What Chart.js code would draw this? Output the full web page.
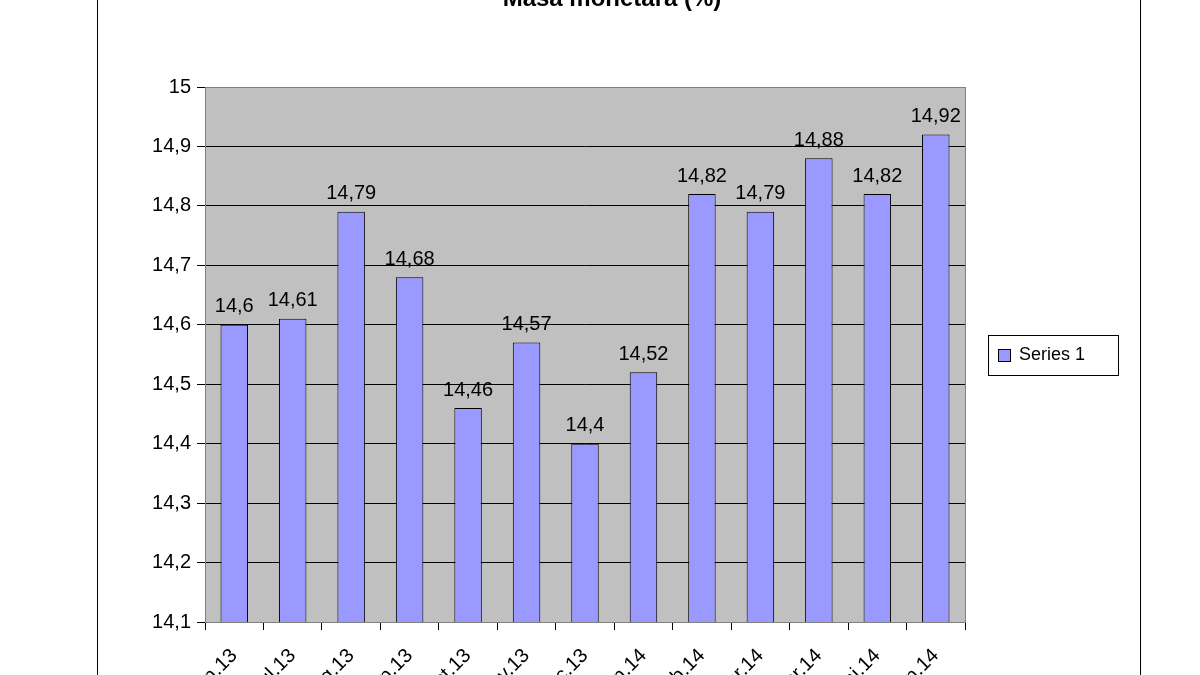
<!DOCTYPE html>
<html><head><meta charset="utf-8">
<script src="https://cdn.jsdelivr.net/npm/chart.js@4"></script>
<style>html,body{margin:0;padding:0;background:#fff}#w{width:1200px;height:675px}</style>
</head><body><div id="w"><canvas id="c"></canvas></div>
<script>
const categories=["iun.13","iul.13","aug.13","sep.13","oct.13","nov.13","dec.13","ian.14","feb.14","mar.14","apr.14","mai.14","iun.14"];
const values=[14.6,14.61,14.79,14.68,14.46,14.57,14.4,14.52,14.82,14.79,14.88,14.82,14.92];
const valueLabels=["14,6","14,61","14,79","14,68","14,46","14,57","14,4","14,52","14,82","14,79","14,88","14,82","14,92"];
const seriesName="Series 1";
const titleText="Masa monetara (%)";
const F="Arial, 'Liberation Sans', sans-serif";
const deco={id:'deco',
 beforeDraw(ch){const c=ch.ctx,a=ch.chartArea;c.save();c.fillStyle='#fff';c.fillRect(0,0,1200,675);
  c.fillStyle='#C0C0C0';c.fillRect(a.left,a.top,a.right-a.left,a.bottom-a.top);
  c.strokeStyle='#000';c.lineWidth=1;c.strokeRect(97.5,-5,1043,690);c.restore();},
 afterDraw(ch){const c=ch.ctx,a=ch.chartArea;c.save();
  c.strokeStyle='#808080';c.strokeRect(a.left+0.5,a.top+0.5,a.right-a.left,a.bottom-a.top);
  c.fillStyle='#000';c.font='bold 24px '+F;c.textAlign='center';c.textBaseline='alphabetic';c.fillText(titleText,612,6);
  c.font='20px '+F;c.textBaseline='bottom';
  ch.getDatasetMeta(0).data.forEach((b,i)=>c.fillText(valueLabels[i],b.x,b.y-8));
  c.strokeStyle='#000';c.strokeRect(988.5,335.5,130,40);
  c.fillStyle='#9999FF';c.fillRect(998,349,12,12);c.strokeRect(998.5,349.5,12,12);
  c.fillStyle='#000';c.textAlign='left';c.textBaseline='middle';c.font='18px '+F;c.fillText(seriesName,1019,355);
  c.restore();}};
new Chart(document.getElementById('c'),{type:'bar',
 data:{labels:categories,datasets:[{label:seriesName,data:values,backgroundColor:'#9999FF',borderColor:'#000',borderWidth:1,barPercentage:0.47,categoryPercentage:1}]},
 options:{responsive:true,maintainAspectRatio:false,animation:false,
  layout:{padding:{top:87,right:235,left:0,bottom:0}},
  plugins:{legend:{display:false},tooltip:{enabled:false}},
  scales:{
   x:{grid:{display:true,drawOnChartArea:false,offset:true,color:'#000',tickLength:8},border:{color:'#000'},
      ticks:{color:'#000',font:{size:20,family:F},maxRotation:45,minRotation:45,padding:14},
      afterFit(s){s.height=53;}},
   y:{min:14.1,max:15,grid:{color:'#000',tickLength:8},border:{color:'#000'},
      ticks:{stepSize:0.1,color:'#000',font:{size:20,family:F},padding:6,callback:v=>(Math.round(v*10)/10).toString().replace('.',',')},
      afterFit(s){s.width=205;}}}},
 plugins:[deco]});
</script></body></html>
